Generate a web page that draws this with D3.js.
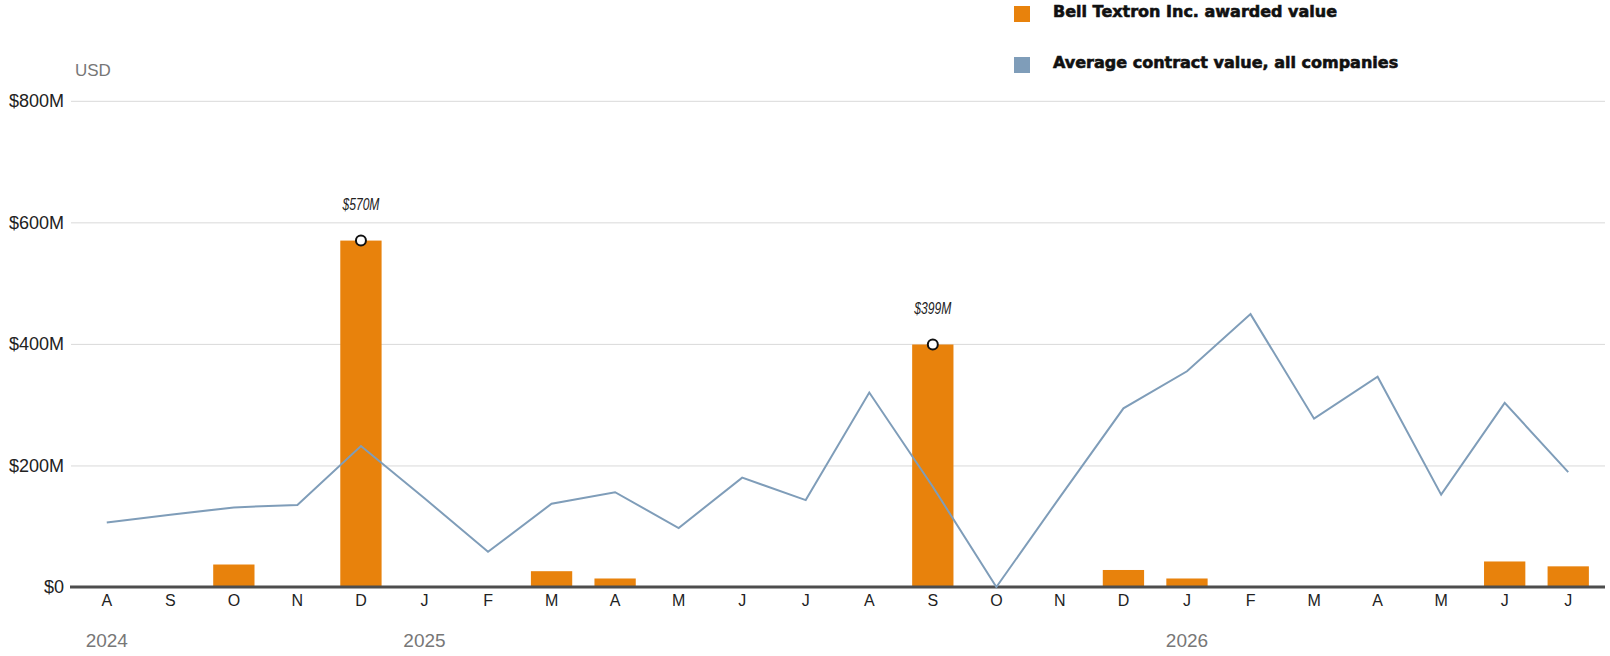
<!DOCTYPE html>
<html>
<head>
<meta charset="utf-8">
<script src="https://cdn.jsdelivr.net/npm/d3@7"></script>
<style>
  html, body { margin: 0; padding: 0; background: #fff; }
  svg { display: block; }
</style>
</head>
<body>
<svg id="chart" width="1610" height="656"></svg>
<script>
// ---- Data ----
const months = ["2024-08","2024-09","2024-10","2024-11","2024-12","2025-01","2025-02","2025-03","2025-04","2025-05","2025-06","2025-07",
                "2025-08","2025-09","2025-10","2025-11","2025-12","2026-01","2026-02","2026-03","2026-04","2026-05","2026-06","2026-07"];
const monthLabels = ["A","S","O","N","D","J","F","M","A","M","J","J","A","S","O","N","D","J","F","M","A","M","J","J"];
const bellValues = [0, 0, 37, 0, 570, 0, 0, 26, 14, 0, 0, 0, 0, 399, 0, 0, 28, 14, 0, 0, 0, 0, 42, 34];
const avgValues = [106, 119, 131, 135, 232, 146, 58, 137, 156, 97, 180, 143, 320, 165, 0, 148, 294, 355, 449, 277, 346, 152, 303, 189];
const yTicks = [0, 200, 400, 600, 800];
const yearLabels = [{ at: "2024-08", label: "2024" }, { at: "2025-01", label: "2025" }, { at: "2026-01", label: "2026" }];
const annotated = ["2024-12", "2025-09"];
const legendItems = ["Bell Textron Inc. awarded value", "Average contract value, all companies"];
const legendColors = ["#E8820C", "#7F9DB9"];

// ---- Setup ----
const svg = d3.select("#chart");
const fontMain = "'Liberation Sans', Arial, sans-serif";
const orange = "#E8820C", blue = "#7F9DB9";

const x = d3.scaleBand().domain(months).range([75, 1600]).paddingInner(0.35).paddingOuter(0.175);
const y = d3.scaleLinear().domain([0, 800]).range([587, 100.8]);
const gridLeft = 71, gridRight = 1605;

// Gridlines
const grid = svg.append("g").attr("transform", `translate(${gridLeft},0)`)
  .call(d3.axisLeft(y).tickValues(yTicks.filter(d => d > 0)).tickSize(-(gridRight - gridLeft)).tickFormat(""));
grid.select(".domain").remove();
grid.selectAll("line").attr("stroke", "#d9d9d9").attr("stroke-width", 1);

// Y axis labels
const yAxis = svg.append("g").attr("transform", `translate(${gridLeft},0)`)
  .call(d3.axisLeft(y).tickValues(yTicks).tickSize(0).tickPadding(7).tickFormat(d => "$" + d + (d === 0 ? "" : "M")));
yAxis.select(".domain").remove();
yAxis.selectAll("text").attr("font-family", fontMain).attr("font-size", 18).attr("fill", "#222");

// USD label
svg.append("text").attr("x", 75).attr("y", 76).text("USD")
  .attr("font-family", fontMain).attr("font-size", 17).attr("fill", "#777");

// Bars
svg.append("g").selectAll("rect").data(months).join("rect")
  .attr("x", d => x(d))
  .attr("width", x.bandwidth())
  .attr("y", (d, i) => y(bellValues[i]))
  .attr("height", (d, i) => y(0) - y(bellValues[i]))
  .attr("fill", orange);

// Baseline
svg.append("line").attr("x1", 70).attr("x2", gridRight).attr("y1", y(0)).attr("y2", y(0))
  .attr("stroke", "#4d4d4d").attr("stroke-width", 3);

// X axis
const xAxis = svg.append("g").attr("transform", `translate(0,${y(0)})`)
  .call(d3.axisBottom(x).tickSize(0).tickPadding(8).tickFormat((d, i) => monthLabels[i]));
xAxis.select(".domain").remove();
xAxis.selectAll("text").attr("font-family", fontMain).attr("font-size", 16).attr("fill", "#222");

// Year labels
svg.append("g").selectAll("text").data(yearLabels).join("text")
  .attr("x", d => x(d.at) + x.bandwidth() / 2)
  .attr("y", 646.5)
  .attr("text-anchor", "middle")
  .attr("font-family", fontMain).attr("font-size", 19).attr("fill", "#777")
  .text(d => d.label);

// Line
const line = d3.line().x((d, i) => x(months[i]) + x.bandwidth() / 2).y(d => y(d));
svg.append("path").datum(avgValues).attr("d", line)
  .attr("fill", "none").attr("stroke", blue).attr("stroke-width", 2).attr("stroke-linejoin", "miter");

// Annotations
const ann = svg.append("g");
annotated.forEach(m => {
  const i = months.indexOf(m);
  const cx = x(m) + x.bandwidth() / 2;
  ann.append("circle").attr("cx", cx).attr("cy", y(bellValues[i])).attr("r", 5)
    .attr("fill", "#fff").attr("stroke", "#111").attr("stroke-width", 2);
  ann.append("text").attr("x", cx).attr("y", y(bellValues[i]) - 31)
    .attr("text-anchor", "middle")
    .attr("font-family", "'Liberation Sans Narrow', 'Liberation Sans', Arial, sans-serif")
    .attr("font-style", "italic").attr("font-size", 16).attr("fill", "#222")
    .attr("textLength", 37).attr("lengthAdjust", "spacingAndGlyphs")
    .text("$" + bellValues[i] + "M");
});

// Legend
const legend = svg.append("g");
legendItems.forEach((t, i) => {
  const gy = i * 51;
  legend.append("rect").attr("x", 1014).attr("y", 6 + gy).attr("width", 16).attr("height", 16).attr("fill", legendColors[i]);
  legend.append("text").attr("x", 1053).attr("y", 17 + gy)
    .attr("font-family", "'DejaVu Sans', sans-serif").attr("font-weight", "bold")
    .attr("font-size", 16).attr("fill", "#111")
    .attr("stroke", "#111").attr("stroke-width", 0.6)
    .text(t);
});
</script>
</body>
</html>
